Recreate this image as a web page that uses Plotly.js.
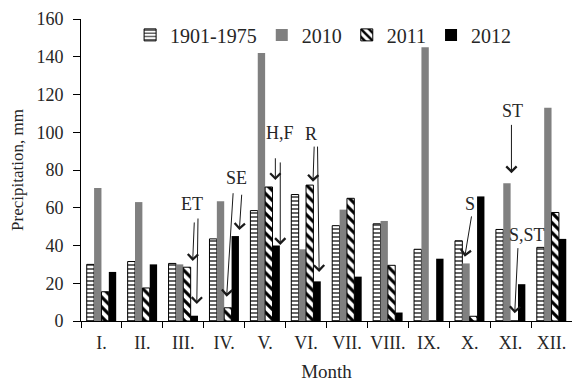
<!DOCTYPE html>
<html>
<head>
<meta charset="utf-8">
<script src="https://cdn.plot.ly/plotly-3.0.1.min.js"></script>
<style>
  html, body { margin: 0; padding: 0; background: #ffffff; }
  #chart { width: 572px; height: 382px; }
</style>
</head>
<body>
<div id="chart"></div>
<script>
// ---- data ----
const months = ['I.', 'II.', 'III.', 'IV.', 'V.', 'VI.', 'VII.', 'VIII.', 'IX.', 'X.', 'XI.', 'XII.'];
const seriesNames = ['1901-1975', '2010', '2011', '2012'];
const p1901_1975 = [30, 31.5, 30.5, 43.5, 58.5, 67, 50.5, 51.5, 38, 42.5, 48.5, 39];
const p2010 = [70.5, 63, 30, 63.5, 142, 38, 59, 53, 145, 30.5, 73, 113];
const p2011 = [15.5, 17.5, 28.5, 7, 71, 72, 65, 29.5, 0, 2.5, 0, 57.5];
const p2012 = [26, 30, 2.8, 45, 40, 21, 23.5, 4.5, 33, 66, 19.5, 43.5];
const yTicks = [0, 20, 40, 60, 80, 100, 120, 140, 160];

// ---- annotation texts and arrows (layout, not data) ----
const noteLabels = [
  {text: 'ET',   x: 2.21,  y: 62},
  {text: 'SE',   x: 3.29,  y: 75.8},
  {text: 'H,F',  x: 4.37,  y: 99.6},
  {text: 'R',    x: 5.12,  y: 99.1},
  {text: 'S',    x: 9.0,   y: 62},
  {text: 'ST',   x: 10.05, y: 111.3},
  {text: 'S,ST', x: 10.40, y: 45.6}
];
const noteArrows = [
  {ax: 2.27, ay: 53,   x: 2.23, y: 31.8},
  {ax: 2.36, ay: 55.1, x: 2.33, y: 9.0},
  {ax: 3.22, ay: 68.5, x: 3.06, y: 12.9},
  {ax: 3.43, ay: 67.7, x: 3.37, y: 48.2},
  {ax: 4.25, ay: 87,   x: 4.25, y: 74.7},
  {ax: 4.37, ay: 84.8, x: 4.37, y: 40.3},
  {ax: 5.20, ay: 93.2, x: 5.17, y: 73.8},
  {ax: 5.28, ay: 93.2, x: 5.32, y: 26.0},
  {ax: 9.05, ay: 56.2, x: 8.88, y: 34.1},
  {ax: 10.02, ay: 104.7, x: 10.02, y: 78.3},
  {ax: 10.18, ay: 39.4, x: 10.10, y: 4.1}
];

const serif = 'Liberation Serif, Times New Roman, serif';
const textColor = '#262626';

const traces = [
  {
    type: 'bar', name: seriesNames[0], x: months, y: p1901_1975,
    marker: {
      color: 'white',
      line: {color: 'black', width: 1},
      pattern: {shape: '-', fgcolor: 'black', bgcolor: 'white', size: 4, solidity: 0.3}
    }
  },
  {
    type: 'bar', name: seriesNames[1], x: months, y: p2010,
    marker: {color: '#808080', line: {width: 0}}
  },
  {
    type: 'bar', name: seriesNames[2], x: months, y: p2011,
    marker: {
      color: 'white',
      line: {color: 'black', width: 1},
      pattern: {shape: '\\', fgcolor: 'black', bgcolor: 'white', size: 7, solidity: 0.45}
    }
  },
  {
    type: 'bar', name: seriesNames[3], x: months, y: p2012,
    marker: {color: 'black', line: {width: 0}}
  }
];

const annotations = [];
noteLabels.forEach(n => annotations.push({
  xref: 'x', yref: 'y', x: n.x, y: n.y, text: n.text, showarrow: false,
  font: {family: serif, size: 18, color: textColor}
}));
noteArrows.forEach(a => annotations.push({
  xref: 'x', yref: 'y', axref: 'x', ayref: 'y',
  x: a.x, y: a.y, ax: a.ax, ay: a.ay, text: '',
  showarrow: true, arrowhead: 4, arrowsize: 2, arrowwidth: 1, arrowcolor: '#1a1a1a', standoff: 0
}));

const layout = {
  width: 572, height: 382,
  margin: {l: 81, r: 0, t: 19, b: 61, pad: 0},
  paper_bgcolor: 'white', plot_bgcolor: 'white',
  barmode: 'group', bargap: 0.28, bargroupgap: 0,
  font: {family: serif, color: textColor},
  showlegend: true,
  legend: {
    orientation: 'h', x: 0.1, xanchor: 'left', y: 1.012, yanchor: 'top',
    bgcolor: 'rgba(0,0,0,0)', borderwidth: 0,
    font: {family: serif, size: 20, color: textColor},
    traceorder: 'normal'
  },
  xaxis: {
    type: 'category', range: [-0.5, 11.5],
    showline: true, linecolor: 'black', linewidth: 1,
    ticks: 'outside', tickson: 'boundaries', ticklen: 6, tickcolor: 'black',
    showgrid: false, zeroline: false, tickangle: 0,
    ticklabelstandoff: 5,
    tickfont: {family: serif, size: 18, color: textColor},
    title: {text: 'Month', font: {family: serif, size: 19, color: textColor}, standoff: 14},
    automargin: false
  },
  yaxis: {
    range: [0, 160], tickvals: yTicks,
    showline: true, linecolor: 'black', linewidth: 1,
    ticks: 'outside', ticklen: 7, tickcolor: 'black',
    showgrid: false, zeroline: false,
    ticklabelstandoff: 6,
    tickfont: {family: serif, size: 18, color: textColor},
    title: {text: 'Precipitation, mm', font: {family: serif, size: 17, color: textColor}, standoff: 8},
    automargin: false
  },
  annotations: annotations
};

Plotly.newPlot('chart', traces, layout, {staticPlot: true, displayModeBar: false});
</script>
</body>
</html>
